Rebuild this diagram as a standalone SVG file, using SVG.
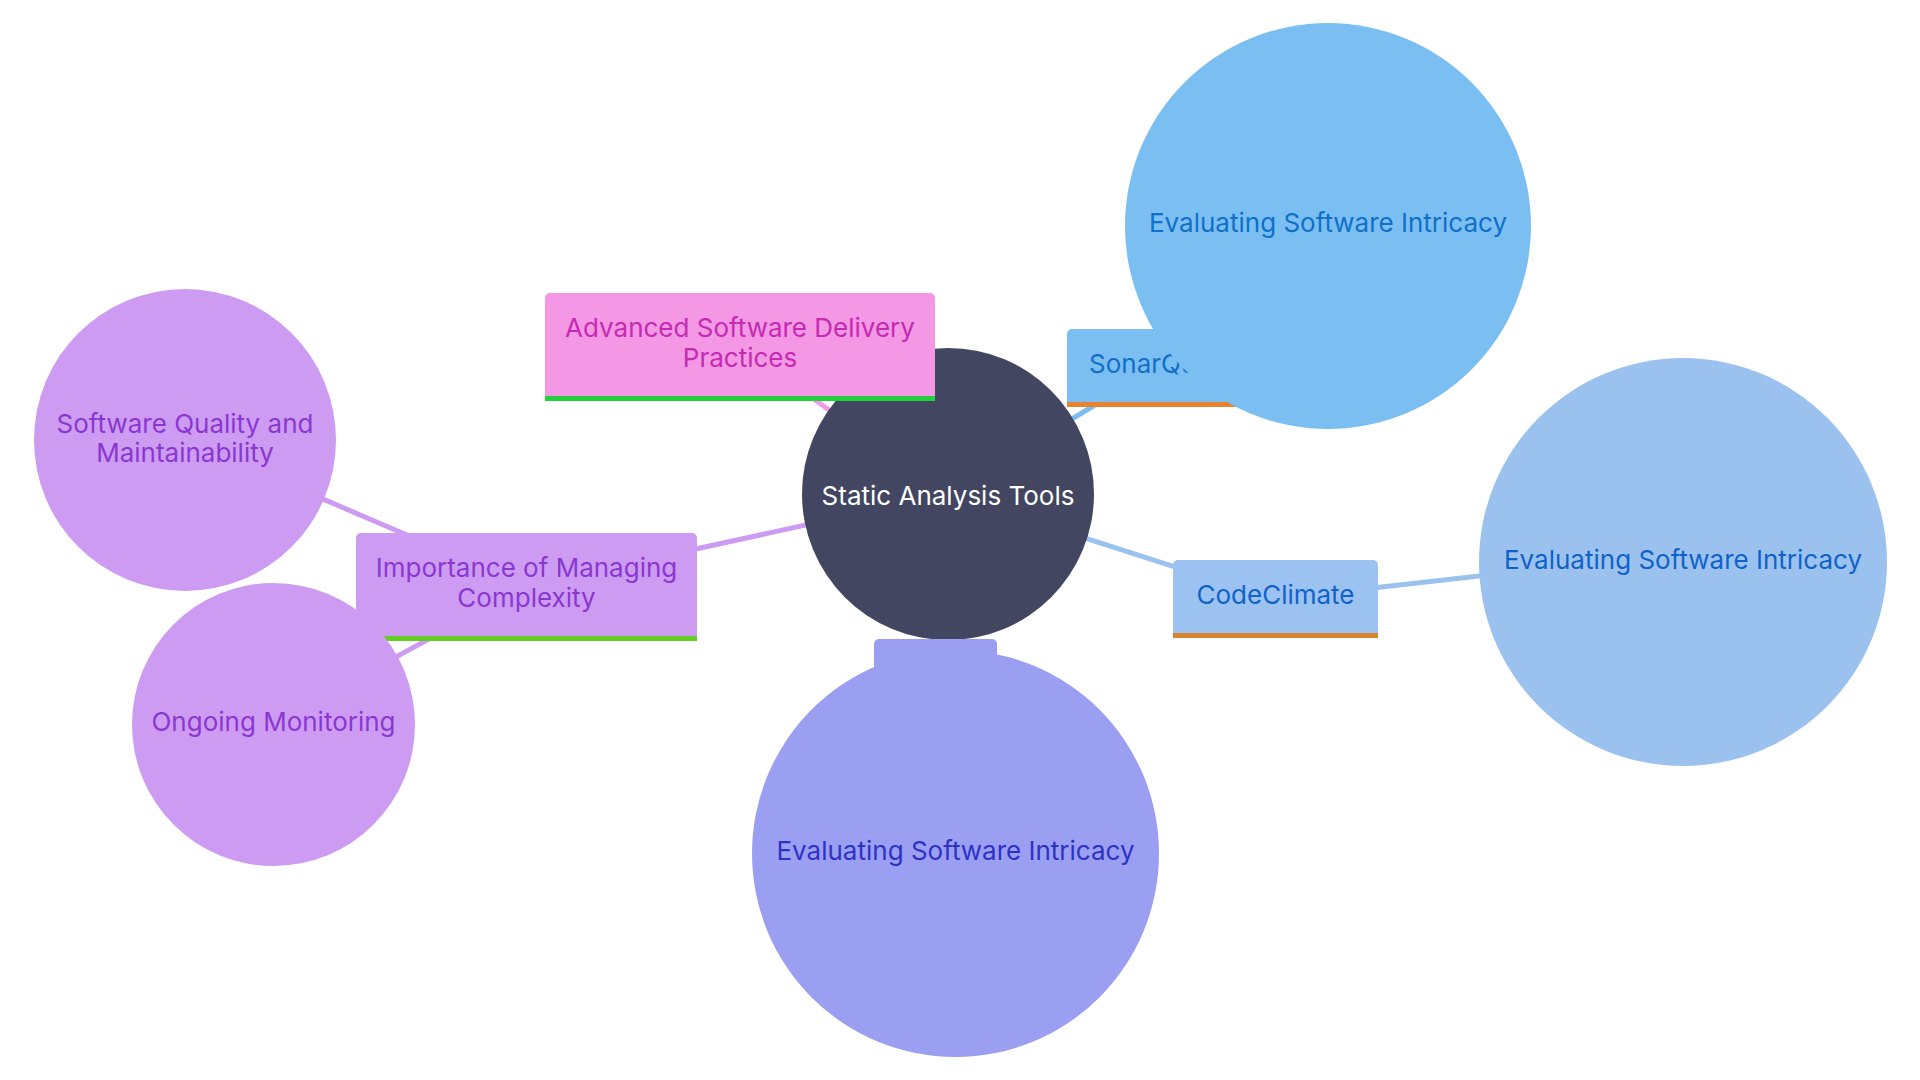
<svg xmlns="http://www.w3.org/2000/svg" width="1920" height="1080" viewBox="0 0 1920 1080">
<style>
text{font-family:Inter,"Noto Sans","Liberation Sans",sans-serif;font-size:26px;text-anchor:middle}
.edge{fill:none;stroke-width:5;stroke-linecap:round}
</style>
<rect width="1920" height="1080" fill="#ffffff"/>
<g id="connectors">
<line class="edge" x1="948" y1="494" x2="740" y2="347" stroke="#f29ae4"/>
<line class="edge" x1="948" y1="494" x2="1156" y2="368" stroke="#7bbff1"/>
<line class="edge" x1="1156" y1="368" x2="1328" y2="226" stroke="#7bbff1"/>
<line class="edge" x1="948" y1="494" x2="1275" y2="599" stroke="#9bc2ef"/>
<line class="edge" x1="1275" y1="599" x2="1683" y2="553" stroke="#9bc2ef"/>
<line class="edge" x1="948" y1="494" x2="935" y2="678" stroke="#9b9ff2"/>
<line class="edge" x1="935" y1="678" x2="955" y2="853" stroke="#9b9ff2"/>
<line class="edge" x1="948" y1="494" x2="526" y2="586" stroke="#cd9cf2"/>
<line class="edge" x1="526" y1="586" x2="185" y2="440" stroke="#cd9cf2"/>
<line class="edge" x1="526" y1="586" x2="273" y2="724" stroke="#cd9cf2"/>
</g>
<g id="node-root">
<circle cx="948" cy="494" r="146" fill="#424660"/>
<text x="948" y="505" fill="#ffffff">Static Analysis Tools</text>
</g>
<g id="node-delivery">
<path d="M545,401 V298 a5,5 0 0 1 5,-5 H930 a5,5 0 0 1 5,5 V401 Z" fill="#f497e4"/>
<rect x="545" y="396" width="390" height="5" fill="#20d13c"/>
<text x="740" y="337" fill="#c52ab3">Advanced Software Delivery</text>
<text x="740" y="367" fill="#c52ab3">Practices</text>
</g>
<g id="node-sonarqube">
<path d="M1067,407 V334 a5,5 0 0 1 5,-5 H1241 a5,5 0 0 1 5,5 V407 Z" fill="#7bbff2"/>
<rect x="1067" y="402" width="179" height="5" fill="#e8822f"/>
<text x="1089" y="373" fill="#1070c8" style="text-anchor:start">SonarQube</text>
</g>
<g id="node-sonarqube-child">
<circle cx="1328" cy="226" r="203" fill="#7bbff2"/>
<text x="1328" y="232" fill="#1070c8">Evaluating Software Intricacy</text>
</g>
<g id="node-codeclimate">
<path d="M1173,638 V565 a5,5 0 0 1 5,-5 H1373 a5,5 0 0 1 5,5 V638 Z" fill="#9bc2f0"/>
<rect x="1173" y="633" width="205" height="5" fill="#d98530"/>
<text x="1275.5" y="604" fill="#1062c8">CodeClimate</text>
</g>
<g id="node-codeclimate-child">
<circle cx="1683" cy="562" r="204" fill="#9bc2ef"/>
<text x="1683" y="569" fill="#1062c8">Evaluating Software Intricacy</text>
</g>
<g id="node-tool3">
<path d="M874,720 V644 a5,5 0 0 1 5,-5 H992 a5,5 0 0 1 5,5 V720 Z" fill="#9b9ff2"/>
</g>
<g id="node-tool3-child">
<circle cx="955.5" cy="853.5" r="203.5" fill="#9b9ff2"/>
<text x="955.5" y="860" fill="#2e32c4">Evaluating Software Intricacy</text>
</g>
<g id="node-importance">
<path d="M356,641 V538 a5,5 0 0 1 5,-5 H692 a5,5 0 0 1 5,5 V641 Z" fill="#cd9cf2"/>
<rect x="356" y="636" width="341" height="5" fill="#63cf24"/>
<text x="526.5" y="577" fill="#8a37d2">Importance of Managing</text>
<text x="526.5" y="607" fill="#8a37d2">Complexity</text>
</g>
<g id="node-quality">
<circle cx="185" cy="440" r="151" fill="#cd9cf2"/>
<text x="185" y="433" fill="#8a37d2">Software Quality and</text>
<text x="185" y="462" fill="#8a37d2">Maintainability</text>
</g>
<g id="node-monitoring">
<circle cx="273.5" cy="724.5" r="141.5" fill="#cd9cf2"/>
<text x="273.5" y="731" fill="#8a37d2">Ongoing Monitoring</text>
</g>
</svg>
